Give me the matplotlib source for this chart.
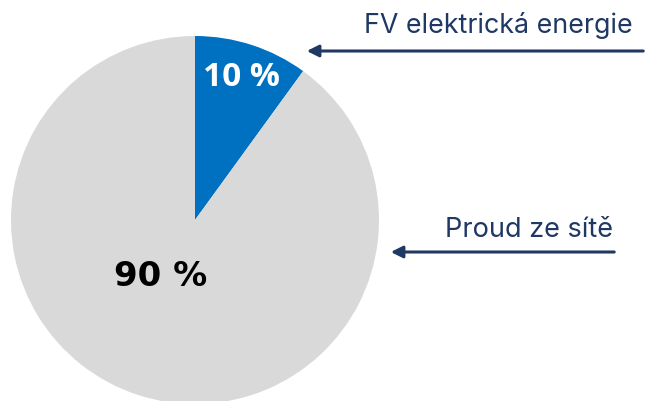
import matplotlib
matplotlib.use("Agg")
import matplotlib.pyplot as plt

# data
labels = ["FV elektrická energie", "Proud ze sítě"]
values = [10, 90]
value_labels = ["10 %", "90 %"]
colors = ["#0070C0", "#D9D9D9"]

NAVY = "#1F3864"
W, H = 651, 401

fig = plt.figure(figsize=(W / 100, H / 100), dpi=100)
ax = fig.add_axes([0, 0, 1, 1])

ax.pie(
    values,
    colors=colors,
    startangle=90,
    counterclock=False,
    center=(195, H - 220),
    radius=184,
    wedgeprops=dict(linewidth=0),
)
ax.set_xlim(0, W)
ax.set_ylim(0, H)
ax.set_aspect("equal")
ax.axis("off")

# values inside slices
ax.text(241, H - 77, value_labels[0], color="white", fontsize=24,
        fontweight="bold", family="Open Sans", ha="center", va="center")
ax.text(161, H - 276, value_labels[1], color="black", fontsize=24.5,
        fontweight="bold", family="DejaVu Sans", ha="center", va="center")

# category labels with arrows
arrow = dict(arrowstyle="-|>,head_length=0.7,head_width=0.35",
             color=NAVY, lw=2.2)

ax.text(633, H - 33, labels[0], color=NAVY, fontsize=19.3, family="Inter",
        ha="right", va="baseline")
ax.annotate("", xy=(304, H - 51), xytext=(646, H - 51), arrowprops=arrow)

ax.text(613, H - 237, labels[1], color=NAVY, fontsize=19.5, family="Inter",
        ha="right", va="baseline")
ax.annotate("", xy=(388, H - 252), xytext=(617, H - 252), arrowprops=arrow)

fig.savefig("out.png", dpi=100)
